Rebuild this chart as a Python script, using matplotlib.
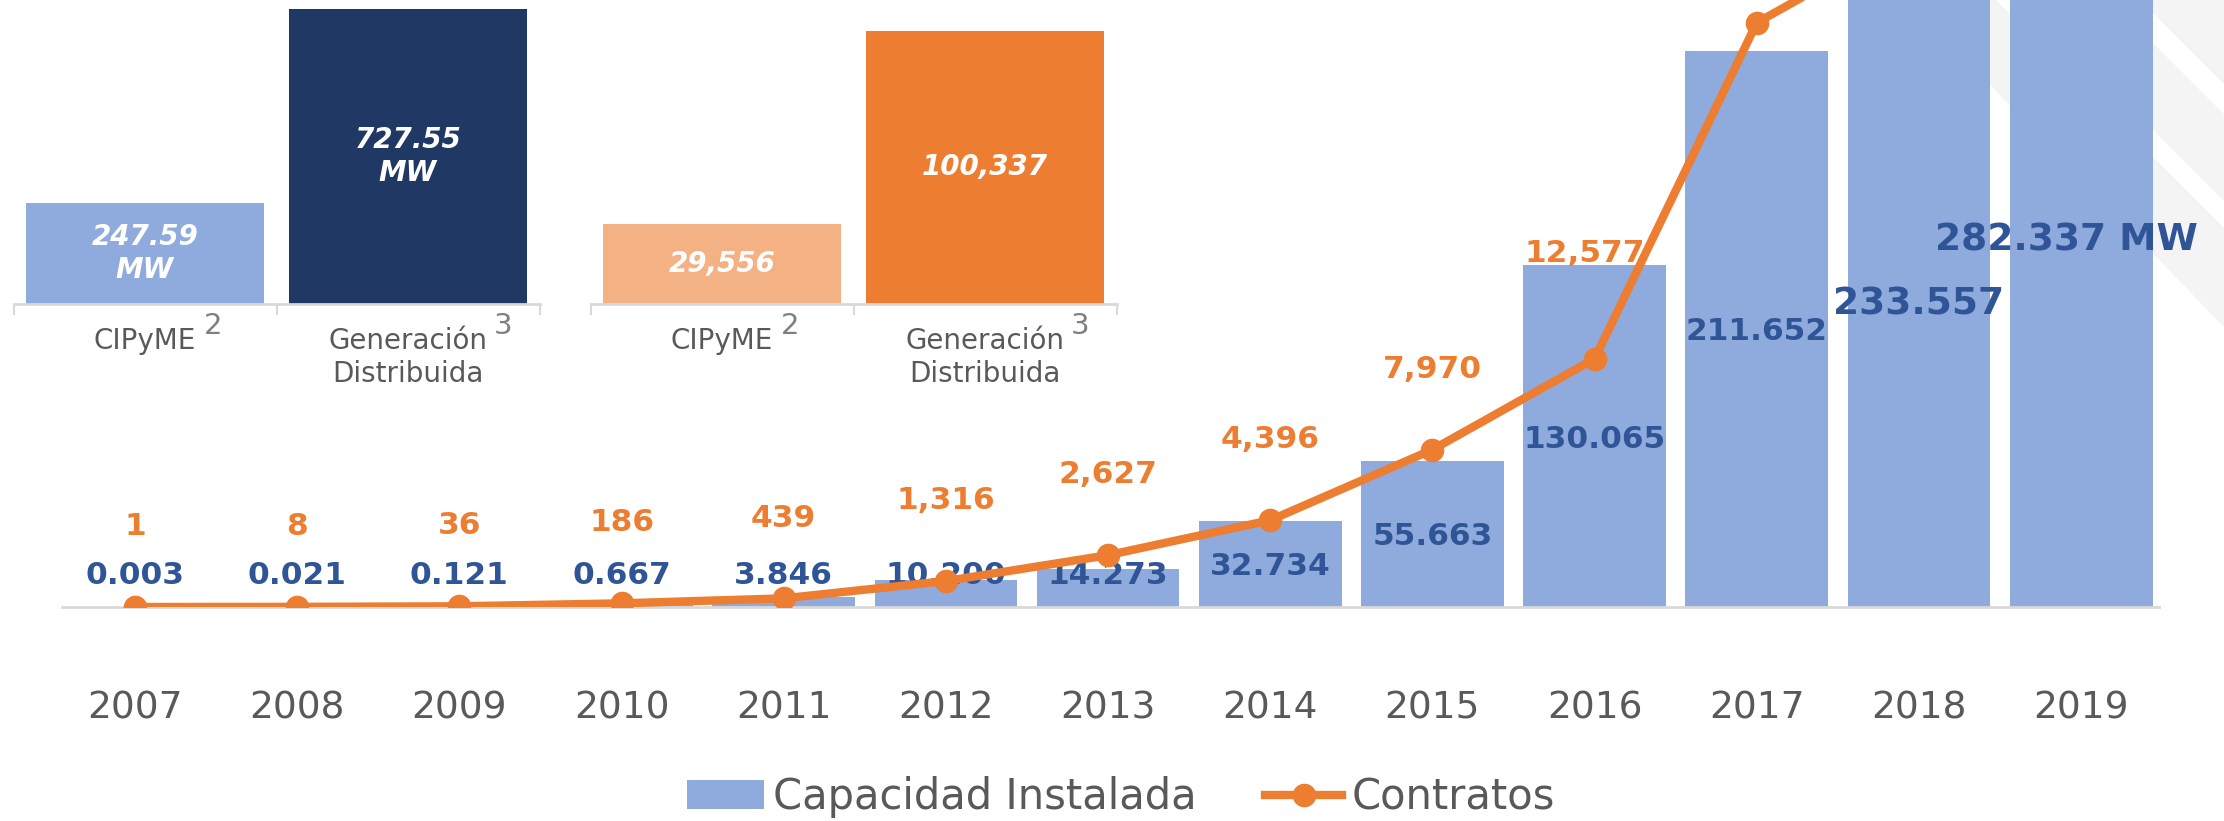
import numpy as np
import matplotlib
matplotlib.use('Agg')
import matplotlib.pyplot as plt
from matplotlib.patches import Polygon, Patch
from matplotlib.lines import Line2D

# datos del grafico principal
years = [2007, 2008, 2009, 2010, 2011, 2012, 2013, 2014, 2015, 2016, 2017, 2018, 2019]
capacidad = [0.003, 0.021, 0.121, 0.667, 3.846, 10.200, 14.273, 32.734, 55.663,
             130.065, 211.652, 233.557, 282.337]
contratos = [1, 8, 36, 186, 439, 1316, 2627, 4396, 7970, 12577, 29600, 34200, 40000]
n_etiquetas = 10  # solo se ven las etiquetas de 2007-2016

# recuadros de arriba
inset_cats = ['CIPyME', 'Generación\nDistribuida']
inset_sup = ['2', '3']
inset_mw = [247.59, 727.55]
inset_contratos = [29556, 100337]

BLUE = '#8FAADC'
NAVY = '#203864'
ORANGE = '#ED7D31'
LORANGE = '#F4B183'
LBL_BLUE = '#2F5597'
GREY = '#595959'
AXGREY = '#D9D9D9'

W, H = 2224, 821
fig = plt.figure(figsize=(W / 100, H / 100), dpi=100)


def px(x, y):
    return (x / W, 1 - y / H)


# franjas decorativas del fondo (derecha)
fig.add_artist(Polygon([px(1908, 0), px(2224, 0), px(2224, 327)], closed=True,
                       transform=fig.transFigure, fc='#F4F4F4', ec='none', zorder=-5))
for pts in ([px(2110, 0), px(2140, 0), px(2224, 84), px(2224, 114)],
            [px(1996, 0), px(2023, 0), px(2224, 201), px(2224, 228)]):
    fig.add_artist(Polygon(pts, closed=True, transform=fig.transFigure,
                           fc='white', ec='none', zorder=-4))

# ---- grafico principal ----
ax = fig.add_axes([62 / W, 1 - 607 / H, 2097 / W, 607 / H])
ax.patch.set_visible(False)
x = np.arange(len(years))
ax.bar(x, capacidad, width=0.88, color=BLUE, zorder=2)
ax.set_xlim(-0.45, 12.48)
ax.set_ylim(0, 231)
for s in ['top', 'left', 'right']:
    ax.spines[s].set_visible(False)
ax.spines['bottom'].set_color(AXGREY)
ax.spines['bottom'].set_linewidth(2)
ax.set_xticks([])
ax.set_yticks([])

for i, yr in enumerate(years):
    ax.annotate(str(yr), xy=(i, 0), xytext=(0, -80.6), textcoords='offset points',
                ha='center', va='baseline', fontsize=27, color=GREY, annotation_clip=False)

blue_dx = [0] * 12 + [-10.8]
for i, v in enumerate(capacidad):
    big = i >= 11
    txt = f"{v:.3f}" + (" MW" if i == len(capacidad) - 1 else "")
    ax.annotate(txt, xy=(i, max(v / 2, 13.3)), xytext=(blue_dx[i], 0),
                textcoords='offset points', ha='center', va='center_baseline',
                fontsize=27 if big else 22.5, fontweight='bold', color=LBL_BLUE, zorder=3)

ax2 = ax.twinx()
ax2.set_ylim(0, 30750)
ax2.axis('off')
ax2.plot(x, contratos, color=ORANGE, lw=6, marker='o', ms=16, zorder=3)

orange_off = [(0, 60)] * 9 + [(-7, 78)]
for i, v in enumerate(contratos[:n_etiquetas]):
    ax2.annotate(f"{v:,}", xy=(i, v), xytext=orange_off[i], textcoords='offset points',
                 ha='center', va='center_baseline', fontsize=22.5, fontweight='bold',
                 color=ORANGE)


# ---- recuadros ----
def inset(left, values, colors, ytop, labels):
    a = fig.add_axes([left / W, 1 - 304 / H, 526 / W, 304 / H])
    a.patch.set_visible(False)
    a.bar([0, 1], values, width=0.905, color=colors)
    a.set_xlim(-0.5, 1.5)
    a.set_ylim(0, ytop)
    for s in ['top', 'left', 'right']:
        a.spines[s].set_visible(False)
    a.spines['bottom'].set_color(AXGREY)
    a.spines['bottom'].set_linewidth(2)
    a.set_xticks([-0.5, 0.5, 1.5])
    a.set_xticklabels([])
    a.tick_params(axis='x', length=8, width=1.5, color=AXGREY, direction='out')
    a.set_yticks([])
    for i, v in enumerate(values):
        a.text(i, v / 2, labels[i], ha='center', va='center', color='white',
               fontsize=20, fontweight='bold', fontstyle='italic', linespacing=1.25)
    for i, cat in enumerate(inset_cats):
        for k, line in enumerate(cat.split('\n')):
            a.annotate(line, xy=(i, 0), xytext=(0, -24.5 - k * 23.8),
                       textcoords='offset points', ha='center', va='center_baseline',
                       fontsize=20, color=GREY, annotation_clip=False)
    sup_dx = [49, 68.4]
    for i, s in enumerate(inset_sup):
        a.annotate(s, xy=(i, 0), xytext=(sup_dx[i], -13.7), textcoords='offset points',
                   ha='center', va='center_baseline', fontsize=21, color='#7F7F7F',
                   annotation_clip=False)
    return a


inset(13.5, inset_mw, [BLUE, NAVY], 748.5, [f"{v:.2f}\nMW" for v in inset_mw])
inset(590.5, inset_contratos, [LORANGE, ORANGE], 111730, [f"{v:,}" for v in inset_contratos])

# leyenda
handles = [Patch(facecolor=BLUE, edgecolor='none'),
           Line2D([], [], color=ORANGE, lw=6, marker='o', ms=16)]
fig.legend(handles, ['Capacidad Instalada', 'Contratos'], loc='center',
           bbox_to_anchor=(0.504, 0.029), ncol=2, frameon=False, fontsize=30,
           handlelength=1.85, handletextpad=0.22, columnspacing=1.63, borderpad=0,
           labelcolor=GREY)

fig.savefig('out.png', dpi=100)
